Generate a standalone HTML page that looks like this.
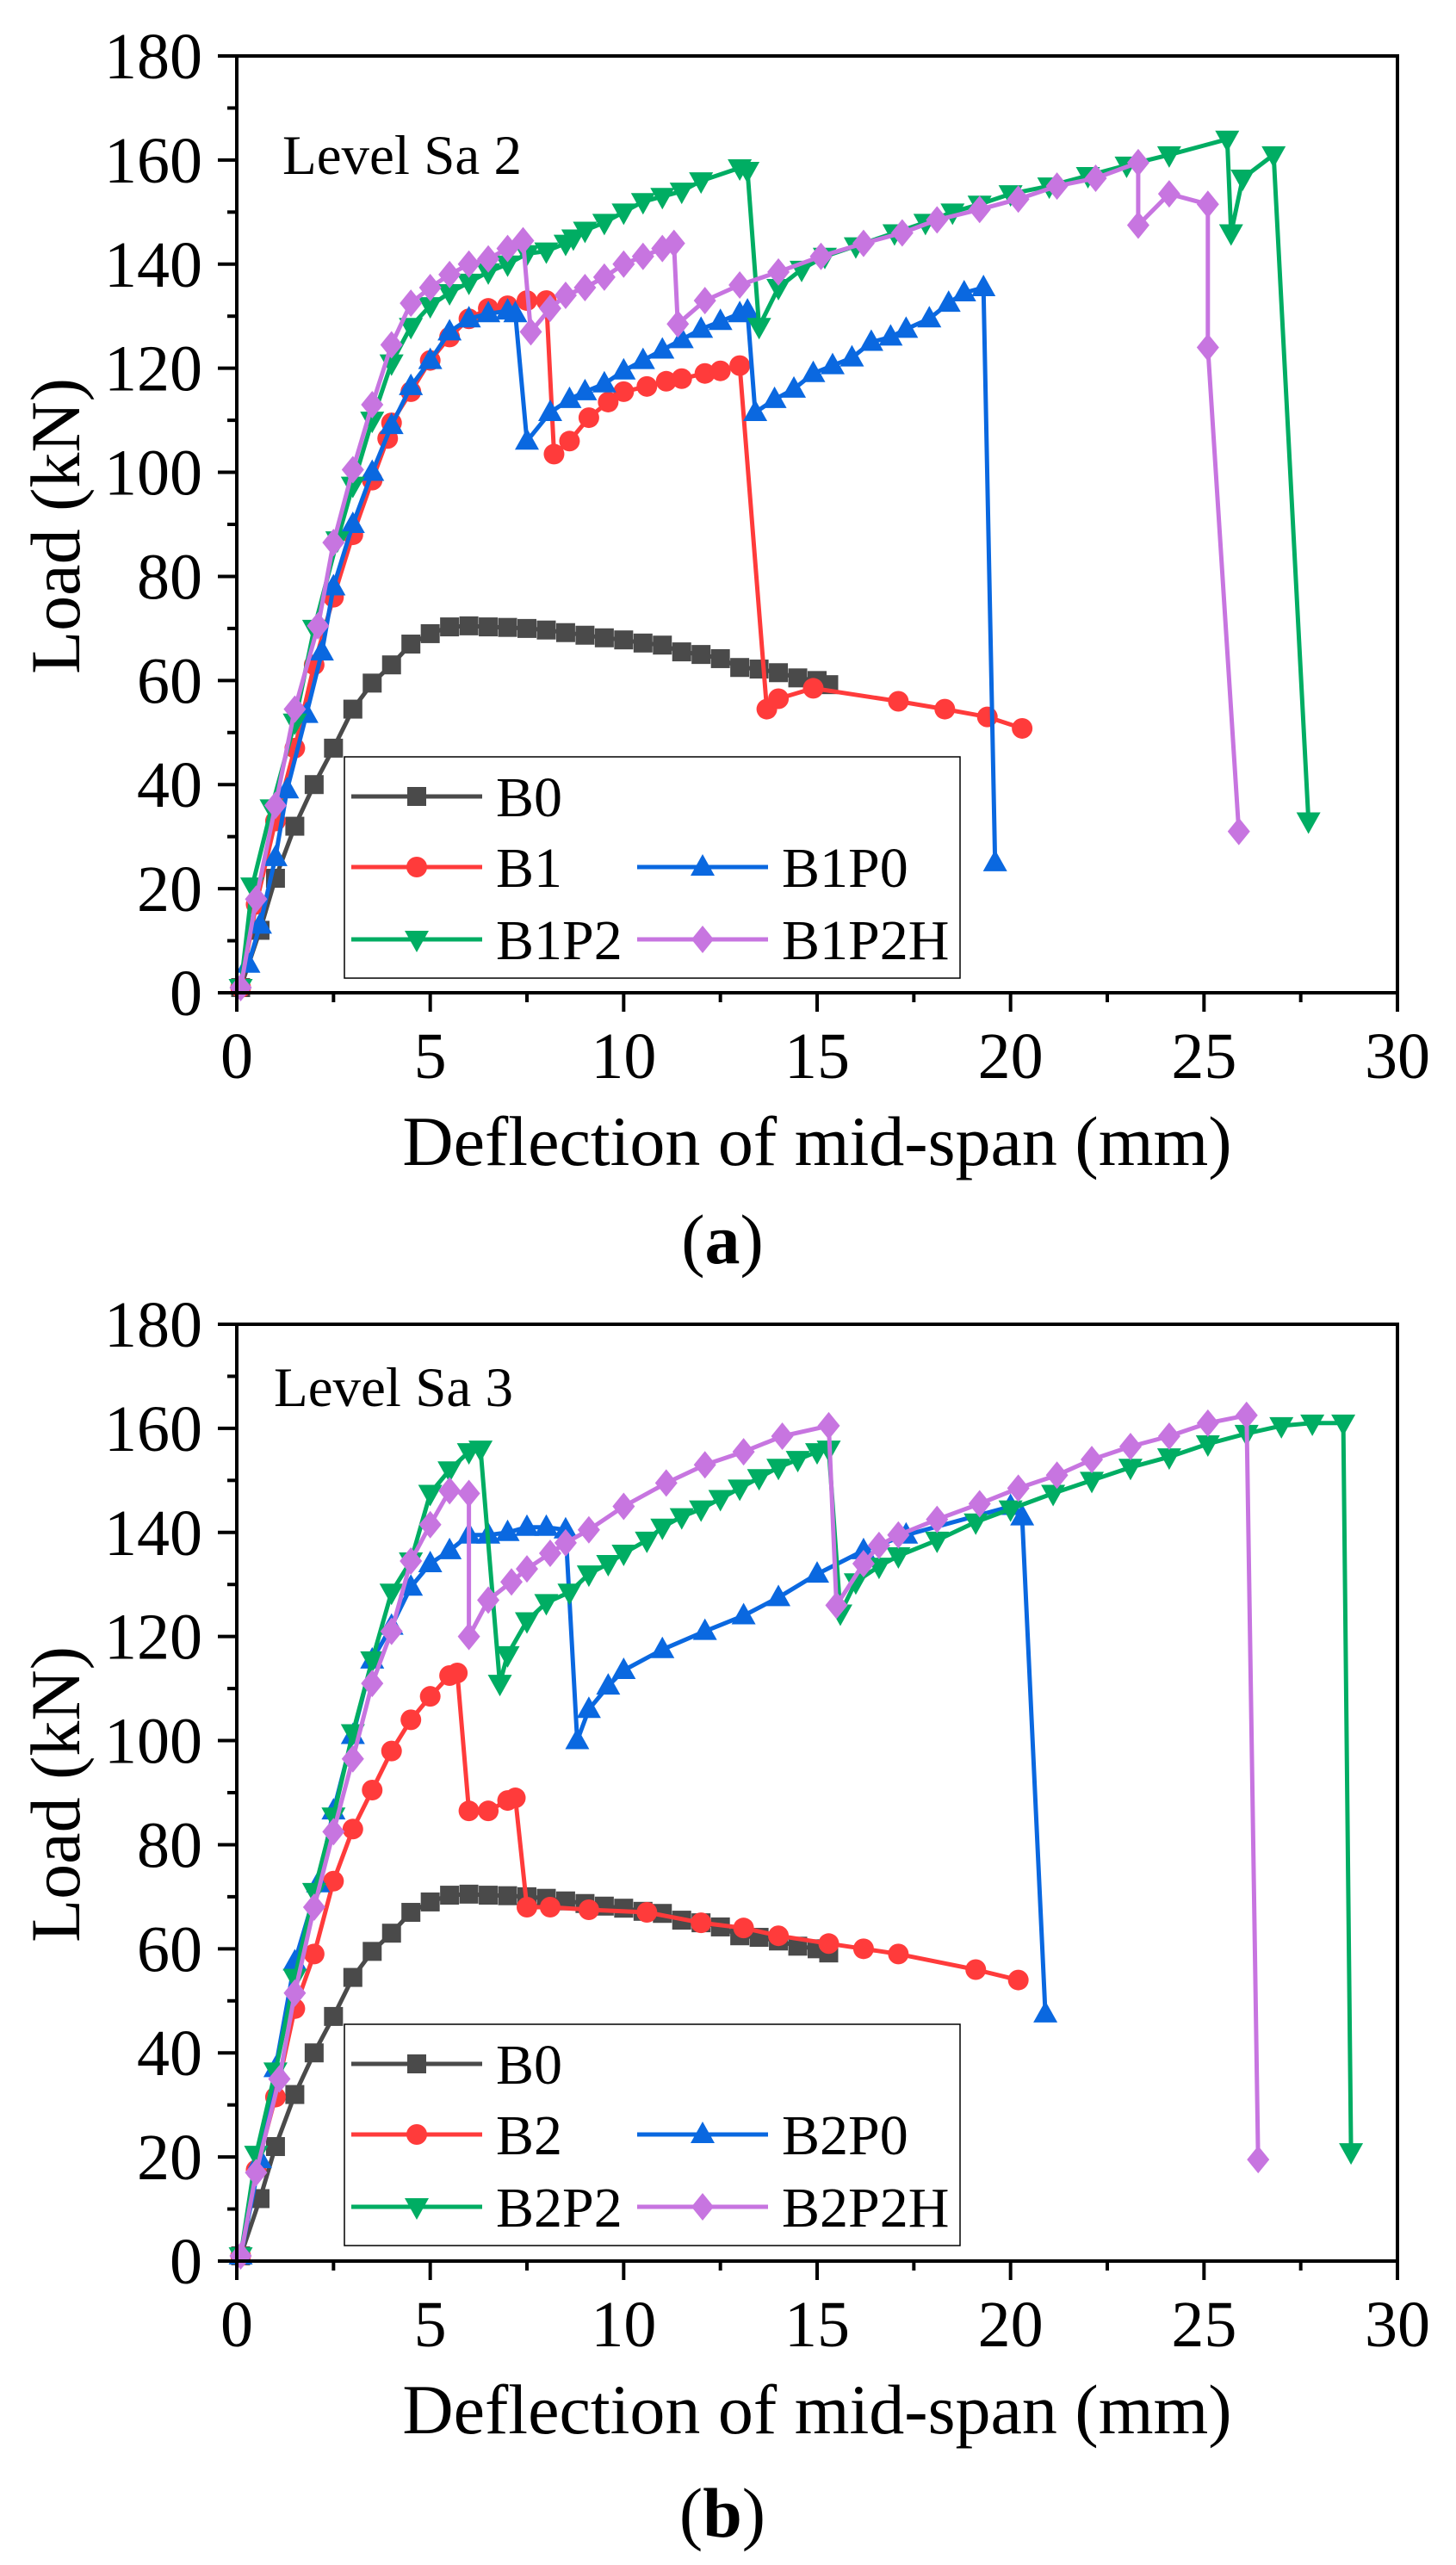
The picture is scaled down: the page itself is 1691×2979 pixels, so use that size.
<!DOCTYPE html>
<html><head><meta charset="utf-8"><style>
html,body{margin:0;padding:0;background:#fff;}
svg{display:block;font-family:"Liberation Serif",serif;}
</style></head><body>
<svg id="fig" width="1691" height="2979" viewBox="0 0 1691 2979" xmlns="http://www.w3.org/2000/svg"></svg>
<script>
// ---------- data ----------
const xTicks = [0,5,10,15,20,25,30];
const yTicks = [0,20,40,60,80,100,120,140,160,180];

const b0X = [0.1,0.6,1.0,1.5,2.0,2.5,3.0,3.5,4.0,4.5,5.0,5.5,6.0,6.5,7.0,7.5,8.0,8.5,9.0,9.5,10,10.5,11,11.5,12,12.5,13,13.5,14,14.5,15,15.3];
const b0Y = [1,12,22,32,40,47,54.5,59.5,63,67,69,70.3,70.5,70.3,70.2,70,69.7,69.2,68.7,68.2,67.8,67.2,66.8,65.5,65,64.2,62.5,62.2,61.5,60.5,60,59.2];

const b1X = [0.1,0.5,1.0,1.5,2.0,2.5,3.0,3.5,3.9,4.0,4.5,5.0,5.5,6.0,6.5,7.0,7.5,8.0,8.2,8.6,9.1,9.6,10.0,10.6,11.1,11.5,12.1,12.5,13.0,13.7,14.0,14.9,17.1,18.3,19.4,20.3];
const b1Y = [1,17,33,47,63,76,88,98.5,106.5,109.5,115.5,121.5,126,129.5,131.5,132,133,133,103.5,106,110.5,113.5,115.5,116.5,117.5,118,119,119.5,120.5,54.5,56.5,58.5,56,54.5,53,50.8];

const b1p0X = [0.3,0.6,1.0,1.3,1.8,2.2,2.5,3.0,3.5,4.0,4.5,5.0,5.5,6.0,6.5,7.0,7.2,7.5,8.1,8.6,9.0,9.5,10.0,10.5,11.0,11.5,12.0,12.5,13.0,13.2,13.4,13.9,14.4,14.9,15.4,15.9,16.4,16.9,17.3,17.9,18.4,18.8,19.3,19.6];
const b1p0Y = [5.5,13,26,39,53.5,65.5,78,90,100,109,116.5,121.5,127,129.5,130.5,131,130.5,106,111.5,114,115.5,117,119.5,121.5,123.5,125.5,127.5,129,130.5,131,111.5,114,116,119,120.5,122,125,126,127.5,129.5,132.5,134.5,135.5,25];

const b1p2X = [0.1,0.4,0.9,1.5,2.0,2.6,3.0,3.5,4.0,4.5,5.0,5.5,6.0,6.5,7.0,7.5,8.0,8.5,8.7,9.0,9.5,10.0,10.5,11.0,11.5,12.0,13.0,13.2,13.5,14.0,14.6,15.2,16.0,17.0,17.8,18.5,19.2,20.0,21.0,22.0,23.0,24.1,25.6,25.7,26.0,26.8,27.7];
const b1p2Y = [1,20.5,35.5,52,70,87,97.5,110,121,128,132,134.5,136.5,138.5,140,142,142.5,144,145,146.5,148,150,152,153,154,156,158.5,158,128,135.5,139,141.5,143.5,146,148,150,151.5,153.5,155,157,159,161,164,146,156.5,161,33];

const b1p2hX = [0.1,0.5,1.0,1.5,2.1,2.5,3.0,3.5,4.0,4.5,5.0,5.5,6.0,6.5,7.0,7.4,7.6,8.1,8.5,9.0,9.5,10.0,10.5,11.0,11.3,11.4,12.1,13.0,14.0,15.1,16.2,17.2,18.1,19.2,20.2,21.2,22.2,23.3,23.3,24.1,25.1,25.1,25.9];
const b1p2hY = [1,18,36,54.5,70.5,86.5,100.5,113,124.5,132.5,135.5,138,140,141,143,144.5,127,131.5,134,135.5,137.5,140,141.5,143,144,128.5,133,136,138.5,141.5,144,146,148.5,150.5,152.5,155,156.5,159.5,147.5,153.5,151.5,124,31];

const b2X = [0.1,0.5,1.0,1.5,2.0,2.5,3.0,3.5,4.0,4.5,5.0,5.5,5.7,6.0,6.5,7.0,7.2,7.5,8.1,9.1,10.6,12.0,13.1,14.0,15.3,16.2,17.1,19.1,20.2];
const b2Y = [1,17.5,31.5,48.5,59,73,83,90.5,98,104,108.5,112.5,113,86.5,86.5,88.5,89,68,68,67.5,67,65,64,62.5,61,60,59,56,54];

const b2p0X = [0.1,0.6,1.0,1.5,2.1,2.5,3.0,3.5,4.0,4.5,5.0,5.5,6.0,6.5,7.0,7.5,8.0,8.5,8.8,9.1,9.6,10.0,11.0,12.1,13.1,14.0,15.0,16.2,17.3,20.0,20.3,20.9];
const b2p0Y = [1,19.5,37,57.5,72.5,86.5,101,115.5,122,129.5,134,136.5,139.5,139.5,140,141,141,140.5,100,106,110.5,113.5,117.5,121,124,127.5,132,136.5,139.5,145,143,47.5];

const b2p2X = [0.1,0.5,1.0,1.5,2.0,2.5,3.0,3.5,4.0,4.5,5.0,5.5,6.0,6.3,6.8,7.0,7.5,8.0,8.6,9.1,9.6,10.0,10.6,11.0,11.5,12.0,12.5,13.0,13.5,14.0,14.5,15.0,15.3,15.6,16.0,16.6,17.1,18.1,19.1,20.0,21.1,22.1,23.1,24.1,25.1,26.1,27.0,27.8,28.6,28.8];
const b2p2Y = [1,20.5,36.5,54.5,71,85.5,101.5,115.5,128.5,134.5,147.5,152,155.5,156,111,116.5,123,126.5,128.5,132,134,136,138.5,141,143,144.5,146.5,148.5,150.5,152.5,154,155.5,156,124.5,130.5,133.5,135.5,138.5,142,144.5,147.5,150,152.5,154.5,157,159,160.5,161,161,21];

const b2p2hX = [0.1,0.5,1.1,1.5,2.0,2.5,3.0,3.5,4.0,4.5,5.0,5.5,6.0,6.0,6.5,7.1,7.5,8.1,8.5,9.1,10.0,11.1,12.1,13.1,14.1,15.3,15.5,16.2,16.6,17.1,18.1,19.2,20.2,21.2,22.1,23.1,24.1,25.1,26.1,26.4];
const b2p2hY = [1,17,35,51.5,68,82.5,96.5,111,121,134.5,141.5,148,147.5,120,127,130.5,133,136,138,140.5,145,149.5,153,155.5,158.5,160.5,126,134,137.5,139.5,142.5,145.5,148.5,151,154,156.5,158.5,161,162.5,19.5];

// ---------- drawing ----------
const NS = "http://www.w3.org/2000/svg";
const svg = document.getElementById('fig');
function mk(tag, attrs, parent){
  const e = document.createElementNS(NS, tag);
  for (const k in attrs) e.setAttribute(k, attrs[k]);
  (parent||svg).appendChild(e);
  return e;
}
const C = {gray:'#4a4a4a', red:'#ff3b3b', blue:'#0a68e0', green:'#00ad63', purple:'#c775e0'};

function marker(g, shape, cx, cy, color){
  let e;
  if (shape==='square') e = mk('rect',{x:cx-11,y:cy-11,width:22,height:22,fill:color},g);
  else if (shape==='circle') e = mk('circle',{cx:cx,cy:cy,r:12,fill:color},g);
  else if (shape==='up') e = mk('polygon',{points:`${cx},${cy-15} ${cx-14},${cy+10} ${cx+14},${cy+10}`,fill:color},g);
  else if (shape==='down') e = mk('polygon',{points:`${cx},${cy+15} ${cx-14},${cy-10} ${cx+14},${cy-10}`,fill:color},g);
  else e = mk('polygon',{points:`${cx},${cy-16} ${cx+13},${cy} ${cx},${cy+16} ${cx-13},${cy}`,fill:color},g);
  
  
  return e;
}

function chart(opts){
  const L=275, R=1623, T=opts.top, B=opts.top+1088;
  const sx = v => L + v/30*(R-L);
  const sy = v => B - v/180*(B-T);
  const g = mk('g',{});
  
  

  opts.series.forEach(s=>{
    const sg = mk('g',{},g);
    
    
    const pts = s.x.map((v,i)=>sx(v).toFixed(1)+','+sy(s.y[i]).toFixed(1)).join(' ');
    const pl = mk('polyline',{points:pts,fill:'none',stroke:s.color,'stroke-width':5,'stroke-linejoin':'round'},sg);
    
    
    s.x.forEach((v,i)=>marker(sg, s.shape, sx(v), sy(s.y[i]), s.color));
  });

  const fr = mk('rect',{x:L,y:T,width:R-L,height:B-T,fill:'none',stroke:'#000','stroke-width':4},g);
  
  

  yTicks.forEach((v,i)=>{
    mk('line',{x1:L-22,x2:L,y1:sy(v),y2:sy(v),stroke:'#000','stroke-width':4},g);
    if (i<yTicks.length-1) mk('line',{x1:L-11,x2:L,y1:sy(v+10),y2:sy(v+10),stroke:'#000','stroke-width':4},g);
    const t = mk('text',{x:235,y:sy(v)+26,'text-anchor':'end','font-size':76},g);
    t.textContent = v;
    
    
  });
  xTicks.forEach((v,i)=>{
    mk('line',{x1:sx(v),x2:sx(v),y1:B,y2:B+22,stroke:'#000','stroke-width':4},g);
    if (i<xTicks.length-1) mk('line',{x1:sx(v+2.5),x2:sx(v+2.5),y1:B,y2:B+11,stroke:'#000','stroke-width':4},g);
    const t = mk('text',{x:sx(v),y:B+99,'text-anchor':'middle','font-size':76},g);
    t.textContent = v;
    
    
  });

  const xt = mk('text',{x:949,y:B+200,'text-anchor':'middle','font-size':82},g);
  xt.textContent = 'Deflection of mid-span (mm)';
  
  
  const yt = mk('text',{x:0,y:0,'text-anchor':'middle','font-size':82,transform:`translate(92,${(T+B)/2+2}) rotate(-90)`},g);
  yt.textContent = 'Load (kN)';
  
  

  const lv = mk('text',{x:opts.levelX,y:opts.levelY,'font-size':65},g);
  lv.textContent = opts.level;
  
  

  const cap = mk('text',{x:839,y:opts.capY,'text-anchor':'middle','font-size':82},g);
  cap.innerHTML = '(<tspan font-weight="bold">'+opts.cap+'</tspan>)';
  
  

  const lg = mk('g',{},g);
  
  
  const LT = opts.legTop;
  const lb = mk('rect',{x:400,y:LT,width:715,height:257,fill:'#fff',stroke:'#000','stroke-width':1.5},lg);
  
  
  const slots = [[408,LT+46],[408,LT+128],[740,LT+128],[408,LT+212],[740,LT+212]];
  opts.series.forEach((s,i)=>{
    const [x0,yy] = slots[i];
    const eg = mk('g',{},lg);
    
    
    mk('line',{x1:x0,x2:x0+152,y1:yy,y2:yy,stroke:s.color,'stroke-width':5},eg);
    marker(eg, s.shape, x0+76, yy, s.color);
    const t = mk('text',{x:x0+168,y:yy+23,'font-size':66},eg);
    t.textContent = s.label;
  });
}

chart({name:'chart-a', top:65, level:'Level Sa 2', levelX:328, levelY:202, cap:'a', capY:1467, legTop:879,
  series:[
    {label:'B0',x:b0X,y:b0Y,color:C.gray,shape:'square'},
    {label:'B1',x:b1X,y:b1Y,color:C.red,shape:'circle'},
    {label:'B1P0',x:b1p0X,y:b1p0Y,color:C.blue,shape:'up'},
    {label:'B1P2',x:b1p2X,y:b1p2Y,color:C.green,shape:'down'},
    {label:'B1P2H',x:b1p2hX,y:b1p2hY,color:C.purple,shape:'diamond'}
  ]});
chart({name:'chart-b', top:1538, level:'Level Sa 3', levelX:318, levelY:1633, cap:'b', capY:2946, legTop:2351,
  series:[
    {label:'B0',x:b0X,y:b0Y,color:C.gray,shape:'square'},
    {label:'B2',x:b2X,y:b2Y,color:C.red,shape:'circle'},
    {label:'B2P0',x:b2p0X,y:b2p0Y,color:C.blue,shape:'up'},
    {label:'B2P2',x:b2p2X,y:b2p2Y,color:C.green,shape:'down'},
    {label:'B2P2H',x:b2p2hX,y:b2p2hY,color:C.purple,shape:'diamond'}
  ]});
</script>
</body></html>
